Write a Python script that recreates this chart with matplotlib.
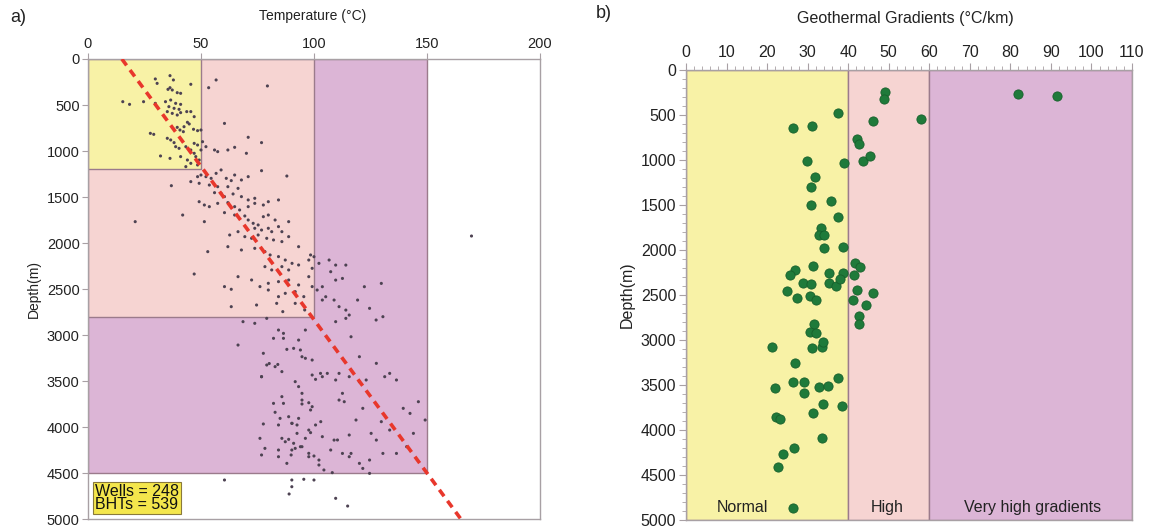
import matplotlib
matplotlib.use("Agg")
import matplotlib.pyplot as plt
from matplotlib.patches import Rectangle

plt.rcParams['font.family'] = ['Liberation Sans', 'DejaVu Sans']

# ---- panel a: BHT temperature (°C) vs depth (m)
bht_temp = [
    36.3, 37.8, 29.8, 30.6, 35.4, 36.3, 37.3, 39.5, 41.0, 45.5, 56.7, 79.4, 53.4,
    15.4, 18.4, 24.6, 29.8, 34.3, 36.6, 38.8, 41.0, 35.8, 38.1, 40.3, 35.1, 37.3,
    39.5, 41.0, 43.7, 45.5, 47.0, 44.0, 44.8, 42.5, 39.5, 40.7, 42.2, 46.7, 48.5,
    50.0, 27.6, 29.1, 35.1, 36.6, 38.1, 38.8, 40.3, 43.3, 47.0, 48.5, 50.7, 45.5,
    47.0, 50.0, 52.2, 32.1, 36.3, 41.0, 44.0, 47.7, 49.2, 43.3, 48.5, 45.5, 60.4,
    70.9, 76.8, 64.9, 70.1, 61.9, 56.0, 57.4,
    48.5, 50.0, 45.5, 52.2, 54.5, 56.7, 58.9, 61.2, 63.4, 64.9, 67.9, 70.9, 76.8,
    88.0, 36.9, 49.2, 53.7, 57.4, 61.9, 66.4, 56.0, 58.9, 60.4, 64.2, 67.9, 70.9,
    73.8, 49.2, 51.5, 53.7, 57.4, 61.9, 64.9, 67.1, 70.9, 73.8, 77.6, 79.8, 84.3,
    41.9, 51.5, 20.9, 60.4, 64.9, 69.4, 70.9, 73.1, 75.3, 77.6, 79.8, 82.8, 73.8,
    76.8, 79.8, 81.3, 84.3, 85.8, 88.8, 62.7, 66.4, 69.4, 72.4, 75.3, 79.1, 82.1,
    85.8, 88.8, 93.2, 53.0, 61.9, 67.9, 73.8, 78.3, 80.6, 84.3, 87.3, 90.3, 78.3,
    81.3, 85.8, 88.8, 93.2, 97.7, 98.5, 99.2, 47.0, 66.4, 72.4, 76.1, 79.8, 84.3,
    88.8, 93.2, 97.7, 60.4, 63.4, 79.8, 84.3, 87.3, 91.7, 95.5, 99.2,
    63.4, 74.6, 83.5, 86.2, 91.7, 95.9, 68.6, 73.8, 79.1, 84.3, 86.5, 82.1, 66.4,
    77.6, 91.0, 94.0, 96.2, 79.1, 82.8, 85.8, 76.8, 99.2, 91.7, 93.2, 94.7, 85.8,
    82.1, 86.5, 94.7, 82.8, 88.8, 90.3, 98.5, 85.8, 91.0, 103.7, 100.7, 93.2, 99.2,
    103.7, 100.7,
    80.2, 84.0, 76.8, 85.0, 90.2, 88.8, 91.7, 97.7, 94.7, 97.7, 98.5, 93.2, 96.2,
    86.5, 88.0, 94.7, 99.2, 102.9, 105.9,
    109.6, 114.1, 109.6, 112.6, 108.9, 111.1, 114.1, 119.3, 122.3, 129.8, 124.6,
    130.5, 127.5, 115.6, 100.0, 102.2, 106.7, 107.4, 103.7, 101.4, 105.2, 103.7,
    109.6, 114.1, 116.4, 120.1, 127.6, 133.5, 136.5, 131.3, 123.1, 120.1, 115.6,
    111.1, 109.6, 112.6, 111.1, 113.4, 118.6, 121.6, 127.6, 133.5, 139.5, 142.5,
    146.2, 149.2, 144.0, 141.0, 136.5, 130.5, 124.6, 120.1, 115.6, 112.6, 108.9,
    116.4, 121.6, 124.6, 90.2, 94.7, 97.7, 102.2,
    77.6, 84.3, 92.5, 103.0, 76.1, 78.3, 76.8, 84.3, 84.3, 87.3, 89.9, 92.5, 96.2,
    94.0, 97.7, 100.0, 102.2, 104.4, 108.1, 107.4, 110.4, 115.6, 125.3, 88.0, 129.8,
    60.4, 90.2, 90.2, 89.0, 95.5, 100.0, 109.6, 114.9, 169.7,
]
bht_depth = [
    181, 228, 217, 265, 330, 312, 337, 366, 373, 275, 228, 293, 312,
    464, 493, 464, 482, 464, 446, 482, 493, 518, 536, 547, 572, 591,
    609, 583, 572, 572, 627, 688, 706, 736, 743, 772, 790, 764, 779,
    772, 808, 819, 862, 880, 909, 953, 971, 953, 917, 935, 899, 989,
    1025, 989, 953, 1054, 1080, 1061, 1098, 1061, 1098, 1170, 1152, 1134, 700,
    851, 909, 960, 1025, 989, 989, 1007,
    1279, 1261, 1333, 1279, 1297, 1243, 1206, 1297, 1322, 1261, 1315, 1279, 1214,
    1272, 1377, 1351, 1370, 1388, 1388, 1406, 1453, 1460, 1496, 1467, 1496, 1532,
    1514, 1551, 1587, 1605, 1569, 1561, 1605, 1641, 1605, 1569, 1587, 1551, 1532,
    1696, 1768, 1768, 1670, 1696, 1706, 1750, 1786, 1804, 1714, 1696, 1750, 1840,
    1859, 1840, 1877, 1822, 1877, 1768, 1913, 1877, 1931, 1949, 1913, 1949, 1967,
    1985, 1931, 2040, 2094, 2040, 2076, 2058, 2094, 2130, 2148, 2185, 2221, 2257,
    2293, 2257, 2293, 2239, 2185, 2130, 2275, 2337, 2366, 2402, 2474, 2438, 2420,
    2402, 2456, 2366, 2474, 2503, 2511, 2583, 2547, 2529, 2583, 2474,
    2692, 2674, 2656, 2746, 2656, 2728, 2855, 2873, 2819, 2946, 3036, 3036, 3109,
    3199, 3145, 3163, 3253, 3326, 3344, 3398, 3453, 3435, 3507, 3561, 3634, 3670,
    3743, 3743, 3750, 3840, 3888, 3960, 4061, 4123, 4177, 4105, 3978, 3906, 3779,
    3453, 3482,
    3310, 3320, 3453, 3906, 3960, 4134, 4232, 4033, 3707, 3736, 3815, 3055, 2946,
    2982, 3156, 3236, 3272, 3417, 3417,
    2240, 2240, 2403, 2385, 2620, 2692, 2729, 2620, 2475, 2439, 2710,
    2801, 2837, 2783, 2149, 2221, 2185, 2312, 2475, 2511, 2584, 2620,
    2855, 2819, 3019, 3236, 3308, 3417, 3489, 3453, 3489, 3508, 3453,
    3417, 3489, 3634, 3707, 3725, 3924, 3797, 4142, 4033, 3797, 3852,
    3725, 3924, 4069, 4214, 4287, 4287, 4359, 4395, 4323, 4287, 4142,
    4287, 4450, 4504, 4250, 4214, 4323, 4413,
    3967, 3978, 3978, 3942, 4123, 4232, 4304, 4250, 4323, 4160, 4304, 4069, 4123,
    4214, 4286, 4315, 4359, 4467, 4496, 4250, 4141, 4087, 4069, 4395, 3942,
    4576, 4576, 4649, 4728, 4568, 4576, 4775, 4859, 1924,
]

# mean gradient line (°C, m)
line_temp = [15, 165]
line_depth = [0, 5000]

# temperature classes: (upper temperature, depth limit, colour)
class_temp = [150, 100, 50]
class_depth = [4500, 2800, 1200]
class_col = ['#dcb5d6', '#f6d4d2', '#f8f2a6']

# ---- panel b: geothermal gradient (°C/km) vs depth (m)
grad = [
    49.1, 48.9, 37.4, 46.1, 57.9, 26.5, 31.2, 42.3, 42.7, 29.8, 39.0, 43.6, 45.4,
    31.9, 30.8, 30.8, 35.7, 37.4, 33.3, 32.9, 34.1, 34.1, 38.8, 41.6, 43.0, 31.4,
    26.9, 25.7, 35.3, 38.8, 41.5, 28.8, 30.8, 35.3, 37.0, 37.9, 25.0, 27.5, 30.6,
    32.0, 42.1, 41.3, 46.1, 44.4, 42.7, 42.7, 31.6, 30.6, 32.1, 21.2, 31.0, 33.5,
    33.9, 26.8, 26.5, 29.0, 22.0, 29.0, 32.9, 35.1, 37.4, 33.7, 38.4, 31.4, 22.1,
    23.2, 33.5, 26.7, 23.9, 22.6, 26.3, 81.8, 91.5,
]
grad_depth = [
    248, 326, 481, 567, 544, 648, 618, 763, 826, 1007, 1037, 1011, 956,
    1193, 1300, 1504, 1456, 1637, 1752, 1833, 1833, 1974, 1970, 2141, 2185, 2174,
    2222, 2278, 2259, 2259, 2278, 2363, 2381, 2370, 2400, 2319, 2452, 2537, 2511,
    2556, 2444, 2556, 2474, 2615, 2730, 2826, 2826, 2915, 2926, 3074, 3093, 3074,
    3026, 3259, 3463, 3463, 3537, 3593, 3519, 3507, 3426, 3715, 3733, 3807, 3859,
    3878, 4085, 4204, 4267, 4415, 4870, 270, 290,
]

grad_lo = [0, 40, 60]
grad_hi = [40, 60, 110]
grad_col = ['#f8f2a6', '#f6d4d2', '#dcb5d6']
grad_names = ['Normal', 'High', 'Very high gradients']
name_x = [14, 49.7, 85.4]

edge = '#9b7b8c'
spine = '#a8a0a4'
txt = '#222222'

fig = plt.figure(figsize=(11.56, 5.32), dpi=100)
ax1 = fig.add_axes([0.0761, 0.0244, 0.391, 0.8647])
ax2 = fig.add_axes([0.5934, 0.0226, 0.3858, 0.8459])

# panel a
for t, d, c in zip(class_temp, class_depth, class_col):
    ax1.add_patch(Rectangle((0, 0), t, d, facecolor=c, edgecolor=edge, lw=1.0, zorder=1))
ax1.scatter(bht_temp, bht_depth, s=5, color='#4d4252', edgecolors='none', zorder=3)
ax1.plot(line_temp, line_depth, color='#e8372c', lw=2.6, ls=(0, (2.2, 1.6)), zorder=4)
ax1.text(3, 4770, "Wells = 248\nBHTs = 539", fontsize=11.5, color='#111111',
         ha='left', va='center', linespacing=0.85, zorder=5,
         bbox=dict(boxstyle='square,pad=0.12', facecolor='#f4e64c', edgecolor='#8a7a3a', lw=0.8))
ax1.set_xlim(0, 200)
ax1.set_ylim(5000, 0)
ax1.set_xticks(range(0, 201, 50))
ax1.set_yticks(range(0, 5001, 500))
ax1.xaxis.tick_top()
ax1.tick_params(axis='both', labelsize=10.5, colors=txt, length=4, width=0.8, pad=2)
ax1.tick_params(axis='both', color=spine)
ax1.set_ylabel('Depth(m)', fontsize=10, color=txt, labelpad=4)
for s in ax1.spines.values():
    s.set_color(spine)
    s.set_linewidth(1.0)

# panel b
for lo, hi, c in zip(grad_lo, grad_hi, grad_col):
    ax2.add_patch(Rectangle((lo, 0), hi - lo, 5000, facecolor=c, edgecolor=edge, lw=1.0, zorder=1))
ax2.scatter(grad, grad_depth, s=44, color='#1f7a3a', edgecolors='#17602c', linewidths=0.6, zorder=3)
for x, name in zip(name_x, grad_names):
    ax2.text(x, 4860, name, fontsize=11.5, color=txt, ha='center', va='center', zorder=4)
ax2.set_xlim(0, 110)
ax2.set_ylim(5000, 0)
ax2.set_xticks(range(0, 111, 10))
ax2.set_xticks(range(0, 111, 2), minor=True)
ax2.set_yticks(range(0, 5001, 500))
ax2.set_yticks(range(0, 5001, 100), minor=True)
ax2.xaxis.tick_top()
ax2.tick_params(axis='both', which='major', labelsize=11.5, colors=txt, length=5, width=0.8, pad=2)
ax2.tick_params(axis='both', which='minor', length=3, width=0.6)
ax2.tick_params(axis='both', which='both', color=spine)
ax2.set_ylabel('Depth(m)', fontsize=11.5, color=txt, labelpad=4)
for s in ax2.spines.values():
    s.set_color(spine)
    s.set_linewidth(1.0)

fig.text(10 / 1156, 1 - 17 / 532, 'a)', fontsize=13, color=txt, va='center')
fig.text(596 / 1156, 1 - 14 / 532, 'b)', fontsize=13, color=txt, va='center')
fig.text(313 / 1156, 1 - 16 / 532, 'Temperature (°C)', fontsize=10, color=txt, ha='center', va='center')
fig.text(905 / 1156, 1 - 19 / 532, 'Geothermal Gradients (°C/km)', fontsize=11.5, color=txt,
         ha='center', va='center')

fig.savefig('out.png', dpi=100)
